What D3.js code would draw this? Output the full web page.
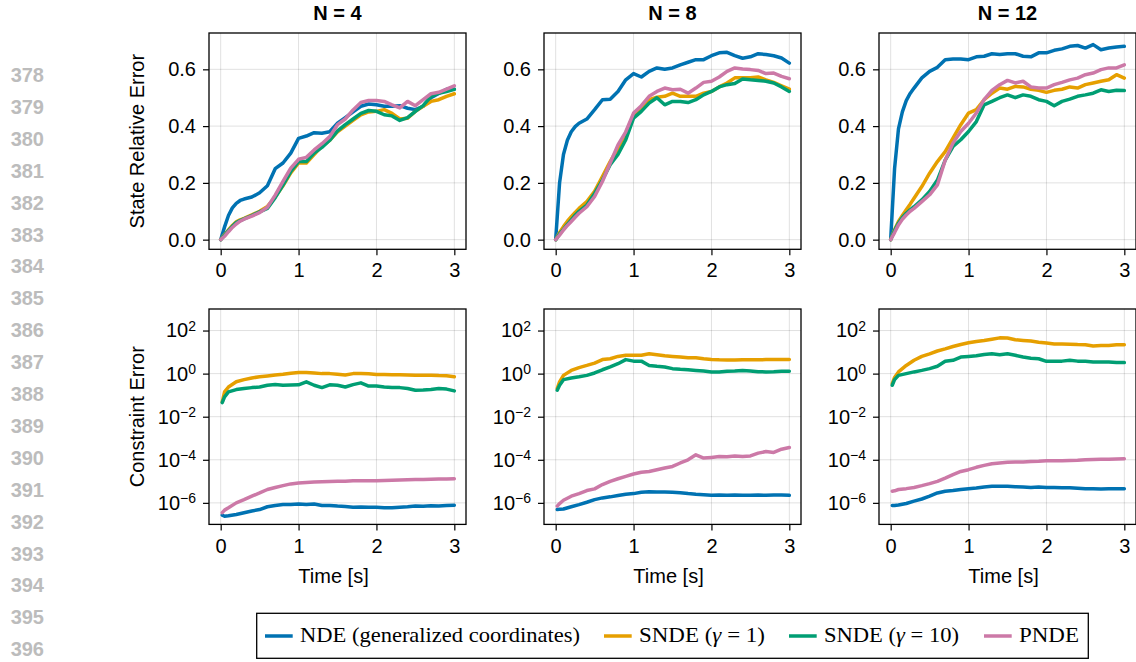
<!DOCTYPE html>
<html>
<head>
<meta charset="utf-8">
<script src="https://cdn.jsdelivr.net/npm/d3@7"></script>
<style>
  html, body { margin: 0; padding: 0; background: #fff; }
  svg { display: block; }
</style>
</head>
<body>
<script>
// ---------------- DATA ----------------
const panelTitles = ["N = 4", "N = 8", "N = 12"];
const seriesNames = ["NDE (generalized coordinates)", "SNDE (γ = 1)", "SNDE (γ = 10)", "PNDE"];
const seriesColors = ["#0072B2", "#E69F00", "#009E73", "#CC79A7"];
const xTickValues = [0, 1, 2, 3];
const stateTickValues = [0.0, 0.2, 0.4, 0.6];
const constraintTickExponents = [2, 0, -2, -4, -6];
const lineNumbers = [378,379,380,381,382,383,384,385,386,387,388,389,390,391,392,393,394,395,396];

// time samples (s) for the state relative error panels
const stateTimes = [0,0.05,0.1,0.15,0.2,0.25,0.3,0.4,0.5,0.6,0.7,0.8,0.9,1.0,1.1,1.2,1.3,1.4,1.5,1.6,1.7,1.8,1.9,2.0,2.1,2.2,2.3,2.4,2.5,2.6,2.7,2.8,2.9,3.0];

// N = 4 : state relative error
const stateN4_NDE    = [0,0.045,0.085,0.112,0.128,0.138,0.143,0.15,0.165,0.19,0.25,0.27,0.305,0.357,0.365,0.377,0.375,0.38,0.41,0.43,0.45,0.47,0.478,0.475,0.47,0.47,0.472,0.463,0.458,0.47,0.5,0.515,0.53,0.53];
const stateN4_SNDE1  = [0,0.018,0.034,0.05,0.063,0.07,0.075,0.087,0.1,0.117,0.15,0.19,0.235,0.27,0.27,0.3,0.33,0.35,0.38,0.4,0.42,0.44,0.45,0.452,0.458,0.445,0.425,0.428,0.452,0.47,0.487,0.493,0.505,0.514];
const stateN4_SNDE10 = [0,0.016,0.032,0.047,0.06,0.067,0.073,0.085,0.098,0.11,0.148,0.192,0.24,0.275,0.275,0.305,0.325,0.35,0.383,0.405,0.425,0.445,0.455,0.452,0.44,0.436,0.42,0.43,0.452,0.472,0.505,0.516,0.522,0.53];
const stateN4_PNDE   = [0,0.012,0.028,0.043,0.055,0.065,0.072,0.083,0.095,0.114,0.157,0.205,0.252,0.283,0.29,0.316,0.338,0.363,0.405,0.425,0.457,0.483,0.49,0.49,0.487,0.475,0.464,0.487,0.472,0.493,0.514,0.519,0.53,0.542];

// N = 8 : state relative error
const stateN8_NDE    = [0,0.2,0.3,0.35,0.38,0.398,0.41,0.425,0.458,0.493,0.495,0.522,0.563,0.585,0.573,0.593,0.605,0.6,0.605,0.616,0.625,0.634,0.634,0.648,0.658,0.66,0.648,0.639,0.644,0.655,0.652,0.648,0.64,0.622];
const stateN8_SNDE1  = [0,0.025,0.046,0.065,0.081,0.096,0.11,0.134,0.17,0.222,0.275,0.322,0.375,0.44,0.463,0.493,0.502,0.505,0.516,0.505,0.505,0.505,0.516,0.522,0.538,0.552,0.57,0.57,0.57,0.573,0.563,0.554,0.542,0.53];
const stateN8_SNDE10 = [0,0.02,0.036,0.054,0.07,0.086,0.1,0.122,0.163,0.21,0.264,0.3,0.352,0.428,0.452,0.481,0.5,0.475,0.487,0.487,0.483,0.493,0.51,0.522,0.538,0.546,0.55,0.566,0.563,0.561,0.558,0.552,0.538,0.522];
const stateN8_PNDE   = [0,0.016,0.034,0.05,0.064,0.079,0.093,0.116,0.152,0.205,0.27,0.334,0.38,0.446,0.472,0.505,0.522,0.534,0.528,0.53,0.516,0.534,0.554,0.558,0.573,0.593,0.605,0.601,0.599,0.596,0.585,0.587,0.575,0.567];

// N = 12 : state relative error
const stateN12_NDE    = [0,0.25,0.39,0.45,0.49,0.515,0.534,0.57,0.593,0.607,0.634,0.636,0.636,0.634,0.644,0.646,0.655,0.652,0.655,0.655,0.646,0.644,0.658,0.658,0.667,0.672,0.681,0.684,0.675,0.687,0.669,0.675,0.679,0.681];
const stateN12_SNDE1  = [0,0.035,0.064,0.085,0.105,0.125,0.146,0.187,0.234,0.275,0.31,0.358,0.405,0.446,0.458,0.493,0.516,0.534,0.53,0.54,0.538,0.53,0.526,0.519,0.526,0.53,0.538,0.534,0.546,0.552,0.558,0.563,0.581,0.569];
const stateN12_SNDE10 = [0,0.032,0.058,0.078,0.093,0.105,0.116,0.14,0.17,0.21,0.28,0.328,0.352,0.381,0.416,0.475,0.487,0.5,0.51,0.5,0.51,0.505,0.493,0.487,0.472,0.487,0.495,0.505,0.51,0.516,0.528,0.522,0.526,0.525];
const stateN12_PNDE   = [0,0.025,0.052,0.072,0.087,0.1,0.11,0.134,0.158,0.193,0.28,0.34,0.381,0.41,0.446,0.493,0.526,0.546,0.561,0.552,0.558,0.538,0.534,0.534,0.546,0.554,0.563,0.569,0.581,0.587,0.599,0.605,0.605,0.616];

// time samples (s) for the constraint error panels
const constraintTimes = [0.02,0.05,0.1,0.2,0.3,0.4,0.5,0.6,0.7,0.8,0.9,1.0,1.1,1.2,1.3,1.4,1.5,1.6,1.7,1.8,1.9,2.0,2.1,2.2,2.3,2.4,2.5,2.6,2.7,2.8,2.9,3.0];

// N = 4 : constraint error
const constraintN4_NDE    = [2.7e-7,2.4e-7,2.5e-7,2.9e-7,3.5e-7,4.2e-7,4.9e-7,6.6e-7,7.6e-7,8.3e-7,8.5e-7,8.9e-7,8.3e-7,8.9e-7,7.6e-7,7.6e-7,7.1e-7,6.8e-7,6.3e-7,6.5e-7,6.3e-7,6.2e-7,6.0e-7,5.9e-7,6.3e-7,6.6e-7,7.1e-7,6.9e-7,7.4e-7,7.2e-7,7.6e-7,7.8e-7];
const constraintN4_SNDE1  = [0.049,0.141,0.24,0.417,0.525,0.63,0.71,0.78,0.87,0.93,1.05,1.12,1.12,1.07,1.0,1.0,0.93,0.87,1.0,1.0,0.98,0.91,0.91,0.89,0.89,0.87,0.85,0.83,0.85,0.81,0.79,0.72];
const constraintN4_SNDE10 = [0.045,0.083,0.141,0.182,0.204,0.224,0.24,0.288,0.309,0.288,0.295,0.302,0.417,0.288,0.224,0.302,0.288,0.24,0.309,0.372,0.263,0.263,0.24,0.229,0.224,0.204,0.17,0.174,0.182,0.204,0.191,0.158];
const constraintN4_PNDE   = [3.5e-7,4.6e-7,5.9e-7,1.0e-6,1.41e-6,2.04e-6,2.88e-6,4.17e-6,5.2e-6,6.3e-6,7.6e-6,8.3e-6,8.9e-6,9.3e-6,9.5e-6,9.8e-6,1.0e-5,1.02e-5,1.05e-5,1.05e-5,1.07e-5,1.07e-5,1.1e-5,1.12e-5,1.15e-5,1.17e-5,1.2e-5,1.23e-5,1.26e-5,1.29e-5,1.29e-5,1.32e-5];

// N = 8 : constraint error
const constraintN8_NDE    = [4.9e-7,5.0e-7,5.2e-7,6.6e-7,8.3e-7,1.07e-6,1.41e-6,1.7e-6,1.9e-6,2.19e-6,2.51e-6,2.69e-6,3.09e-6,3.24e-6,3.16e-6,3.16e-6,3.09e-6,2.95e-6,2.69e-6,2.51e-6,2.4e-6,2.24e-6,2.29e-6,2.24e-6,2.29e-6,2.24e-6,2.24e-6,2.29e-6,2.24e-6,2.29e-6,2.34e-6,2.24e-6];
const constraintN8_SNDE1  = [0.204,0.417,0.83,1.41,1.91,2.4,3.09,4.47,4.9,6.3,7.1,7.1,7.2,8.3,7.6,6.8,6.3,5.9,5.5,5.4,4.9,4.57,4.37,4.27,4.27,4.37,4.37,4.37,4.47,4.47,4.57,4.57];
const constraintN8_SNDE10 = [0.17,0.288,0.525,0.63,0.71,0.83,1.07,1.51,2.04,2.88,4.47,3.8,3.8,2.4,2.19,2.04,1.7,1.58,1.51,1.41,1.32,1.2,1.2,1.29,1.32,1.41,1.32,1.23,1.2,1.23,1.29,1.29];
const constraintN8_PNDE   = [7.1e-7,9.3e-7,1.32e-6,2.04e-6,2.69e-6,3.72e-6,4.47e-6,7.1e-6,1.0e-5,1.32e-5,1.7e-5,2.19e-5,2.63e-5,2.88e-5,3.47e-5,4.17e-5,4.9e-5,7.1e-5,1.0e-4,1.7e-4,1.2e-4,1.29e-4,1.41e-4,1.38e-4,1.51e-4,1.41e-4,1.51e-4,2.04e-4,2.4e-4,2.19e-4,3.09e-4,3.72e-4];

// N = 12 : constraint error
const constraintN12_NDE    = [7.6e-7,7.6e-7,7.9e-7,9.3e-7,1.2e-6,1.51e-6,2.04e-6,2.88e-6,3.47e-6,3.72e-6,4.17e-6,4.57e-6,4.9e-6,5.5e-6,5.9e-6,5.9e-6,5.9e-6,5.6e-6,5.5e-6,5.2e-6,5.4e-6,5.2e-6,5.1e-6,5.0e-6,5.0e-6,4.8e-6,4.57e-6,4.57e-6,4.37e-6,4.47e-6,4.57e-6,4.57e-6];
const constraintN12_SNDE1  = [0.347,0.66,1.2,2.4,4.17,6.3,8.3,11.2,14.1,18.2,22.4,26.9,30.9,34.7,39.8,45.7,44.7,37.2,34.7,32.4,28.8,26.3,24.0,24.0,23.4,22.4,21.9,19.1,20.4,20.4,21.9,21.9];
const constraintN12_SNDE10 = [0.288,0.525,0.83,1.0,1.2,1.41,1.7,2.19,3.72,4.17,5.9,6.3,6.8,7.8,8.3,7.6,8.3,7.1,5.9,5.2,4.9,3.72,3.8,3.8,4.17,3.8,3.72,3.47,3.47,3.47,3.31,3.24];
const constraintN12_PNDE   = [3.47e-6,3.63e-6,4.17e-6,4.57e-6,5.2e-6,6.3e-6,7.8e-6,1.0e-5,1.41e-5,2.04e-5,2.88e-5,3.47e-5,4.47e-5,5.5e-5,6.6e-5,7.1e-5,7.6e-5,7.8e-5,7.9e-5,8.3e-5,8.5e-5,8.9e-5,8.9e-5,9.1e-5,9.3e-5,9.5e-5,1.0e-4,1.02e-4,1.05e-4,1.07e-4,1.1e-4,1.12e-4];

const stateSeries = [
  [stateN4_NDE, stateN4_SNDE1, stateN4_SNDE10, stateN4_PNDE],
  [stateN8_NDE, stateN8_SNDE1, stateN8_SNDE10, stateN8_PNDE],
  [stateN12_NDE, stateN12_SNDE1, stateN12_SNDE10, stateN12_PNDE]
];
const constraintSeries = [
  [constraintN4_NDE, constraintN4_SNDE1, constraintN4_SNDE10, constraintN4_PNDE],
  [constraintN8_NDE, constraintN8_SNDE1, constraintN8_SNDE10, constraintN8_PNDE],
  [constraintN12_NDE, constraintN12_SNDE1, constraintN12_SNDE10, constraintN12_PNDE]
];

// ---------------- LAYOUT ----------------
const W = 1136, H = 662;
const colX = [209, 544, 879];
const colW = 257;
const topY = 33, topH = 216.3;
const botY = 309, botH = 215.4;
const sansFont = "'Liberation Sans', Arial, Helvetica, sans-serif";
const serifFont = "'Liberation Serif', 'Times New Roman', serif";
const gridColor = "rgba(0,0,0,0.12)";
const lineW = 3.5;

const svg = d3.select("body").append("svg")
  .attr("width", W).attr("height", H)
  .attr("viewBox", `0 0 ${W} ${H}`);

// gray line numbers at the left margin
svg.append("g").selectAll("text").data(lineNumbers).join("text")
  .attr("x", 44)
  .attr("y", (d, i) => 75 + i * 31.9 + 7)
  .attr("text-anchor", "end")
  .attr("font-family", sansFont)
  .attr("font-size", 20)
  .attr("font-weight", "bold")
  .attr("fill", "#bcbcbc")
  .text(d => d);

function styleAxis(g) {
  g.select(".domain").remove();
  g.selectAll(".tick line").attr("stroke", "#000").attr("stroke-width", 1.2);
  g.selectAll(".tick text")
    .attr("font-family", sansFont)
    .attr("font-size", 20)
    .attr("fill", "#000");
}

colX.forEach((x0, ci) => {
  const x = d3.scaleLinear().domain([-0.15, 3.15]).range([x0, x0 + colW]);
  const yS = d3.scaleLinear().domain([-0.034, 0.728]).range([topY + topH, topY]);
  const yC = d3.scaleLog().domain([1e-7, 1e3]).range([botY + botH, botY]);

  // ---- title ----
  svg.append("text")
    .attr("x", x0 + colW / 2).attr("y", 20)
    .attr("text-anchor", "middle")
    .attr("font-family", sansFont).attr("font-size", 20).attr("font-weight", "bold")
    .text(panelTitles[ci]);

  // ---- TOP panel ----
  const gt = svg.append("g");
  const clipIdT = "clipT" + ci;
  gt.append("clipPath").attr("id", clipIdT).append("rect")
    .attr("x", x0).attr("y", topY).attr("width", colW).attr("height", topH);
  gt.append("g").selectAll("line").data(xTickValues).join("line")
    .attr("x1", d => x(d)).attr("x2", d => x(d))
    .attr("y1", topY).attr("y2", topY + topH)
    .attr("stroke", gridColor).attr("stroke-width", 1);
  gt.append("g").selectAll("line").data(stateTickValues).join("line")
    .attr("x1", x0).attr("x2", x0 + colW)
    .attr("y1", d => yS(d)).attr("y2", d => yS(d))
    .attr("stroke", gridColor).attr("stroke-width", 1);
  const lineT = d3.line().x((d, i) => x(stateTimes[i])).y(d => yS(d));
  gt.append("g").attr("clip-path", `url(#${clipIdT})`)
    .selectAll("path").data(stateSeries[ci]).join("path")
    .attr("d", d => lineT(d))
    .attr("fill", "none")
    .attr("stroke", (d, i) => seriesColors[i])
    .attr("stroke-width", lineW)
    .attr("stroke-linejoin", "round").attr("stroke-linecap", "round");
  gt.append("g").attr("transform", `translate(0,${topY + topH})`)
    .call(d3.axisBottom(x).tickValues(xTickValues).tickFormat(d3.format("d")).tickSize(6).tickPadding(8))
    .call(styleAxis);
  gt.append("g").attr("transform", `translate(${x0},0)`)
    .call(d3.axisLeft(yS).tickValues(stateTickValues).tickFormat(d3.format(".1f")).tickSize(6).tickPadding(7))
    .call(styleAxis);
  gt.append("rect").attr("x", x0).attr("y", topY).attr("width", colW).attr("height", topH)
    .attr("fill", "none").attr("stroke", "#000").attr("stroke-width", 1.3);

  // ---- BOTTOM panel ----
  const gb = svg.append("g");
  const clipIdB = "clipB" + ci;
  gb.append("clipPath").attr("id", clipIdB).append("rect")
    .attr("x", x0).attr("y", botY).attr("width", colW).attr("height", botH);
  gb.append("g").selectAll("line").data(xTickValues).join("line")
    .attr("x1", d => x(d)).attr("x2", d => x(d))
    .attr("y1", botY).attr("y2", botY + botH)
    .attr("stroke", gridColor).attr("stroke-width", 1);
  const logTicks = constraintTickExponents.map(e => Math.pow(10, e));
  gb.append("g").selectAll("line").data(logTicks).join("line")
    .attr("x1", x0).attr("x2", x0 + colW)
    .attr("y1", d => yC(d)).attr("y2", d => yC(d))
    .attr("stroke", gridColor).attr("stroke-width", 1);
  const lineB = d3.line().x((d, i) => x(constraintTimes[i])).y(d => yC(d));
  gb.append("g").attr("clip-path", `url(#${clipIdB})`)
    .selectAll("path").data(constraintSeries[ci]).join("path")
    .attr("d", d => lineB(d))
    .attr("fill", "none")
    .attr("stroke", (d, i) => seriesColors[i])
    .attr("stroke-width", lineW)
    .attr("stroke-linejoin", "round").attr("stroke-linecap", "round");
  gb.append("g").attr("transform", `translate(0,${botY + botH})`)
    .call(d3.axisBottom(x).tickValues(xTickValues).tickFormat(d3.format("d")).tickSize(6).tickPadding(8))
    .call(styleAxis);
  const yAx = gb.append("g").attr("transform", `translate(${x0},0)`)
    .call(d3.axisLeft(yC).tickValues(logTicks).tickFormat(() => "").tickSize(6).tickPadding(7))
    .call(styleAxis);
  yAx.selectAll(".tick text").each(function(d) {
    const t = d3.select(this);
    const e = Math.round(Math.log10(d));
    t.text(null);
    t.append("tspan").text("10");
    t.append("tspan").attr("dy", "-0.45em").attr("font-size", 14)
      .text(e < 0 ? "\u2212" + Math.abs(e) : String(e));
  });
  gb.append("rect").attr("x", x0).attr("y", botY).attr("width", colW).attr("height", botH)
    .attr("fill", "none").attr("stroke", "#000").attr("stroke-width", 1.3);

  svg.append("text")
    .attr("x", x0 + colW / 2 - 4).attr("y", 583)
    .attr("text-anchor", "middle")
    .attr("font-family", sansFont).attr("font-size", 20)
    .text("Time [s]");
});

// y axis labels
svg.append("text")
  .attr("transform", `translate(144,${topY + topH / 2}) rotate(-90)`)
  .attr("text-anchor", "middle")
  .attr("font-family", sansFont).attr("font-size", 20)
  .text("State Relative Error");
svg.append("text")
  .attr("transform", `translate(144,${botY + botH / 2}) rotate(-90)`)
  .attr("text-anchor", "middle")
  .attr("font-family", sansFont).attr("font-size", 20)
  .text("Constraint Error");

// ---------------- LEGEND ----------------
const legend = svg.append("g");
legend.append("rect")
  .attr("x", 256.7).attr("y", 613.3).attr("width", 831.6).attr("height", 45)
  .attr("fill", "#fff").attr("stroke", "#000").attr("stroke-width", 1.3);
const legendLineX = [265, 604, 789, 984];
const legendTextW = [280, 126, 135, 60];
seriesNames.forEach((name, i) => {
  legend.append("line")
    .attr("x1", legendLineX[i]).attr("x2", legendLineX[i] + 27.7)
    .attr("y1", 636).attr("y2", 636)
    .attr("stroke", seriesColors[i]).attr("stroke-width", lineW);
  const t = legend.append("text")
    .attr("x", legendLineX[i] + 35).attr("y", 642)
    .attr("font-family", serifFont).attr("font-size", 21)
    .attr("textLength", legendTextW[i]).attr("lengthAdjust", "spacingAndGlyphs");
  const gi = name.indexOf("γ");
  if (gi >= 0) {
    t.append("tspan").text(name.slice(0, gi));
    t.append("tspan").attr("font-style", "italic").text("γ");
    t.append("tspan").text(name.slice(gi + 1));
  } else {
    t.text(name);
  }
});
</script>
</body>
</html>
